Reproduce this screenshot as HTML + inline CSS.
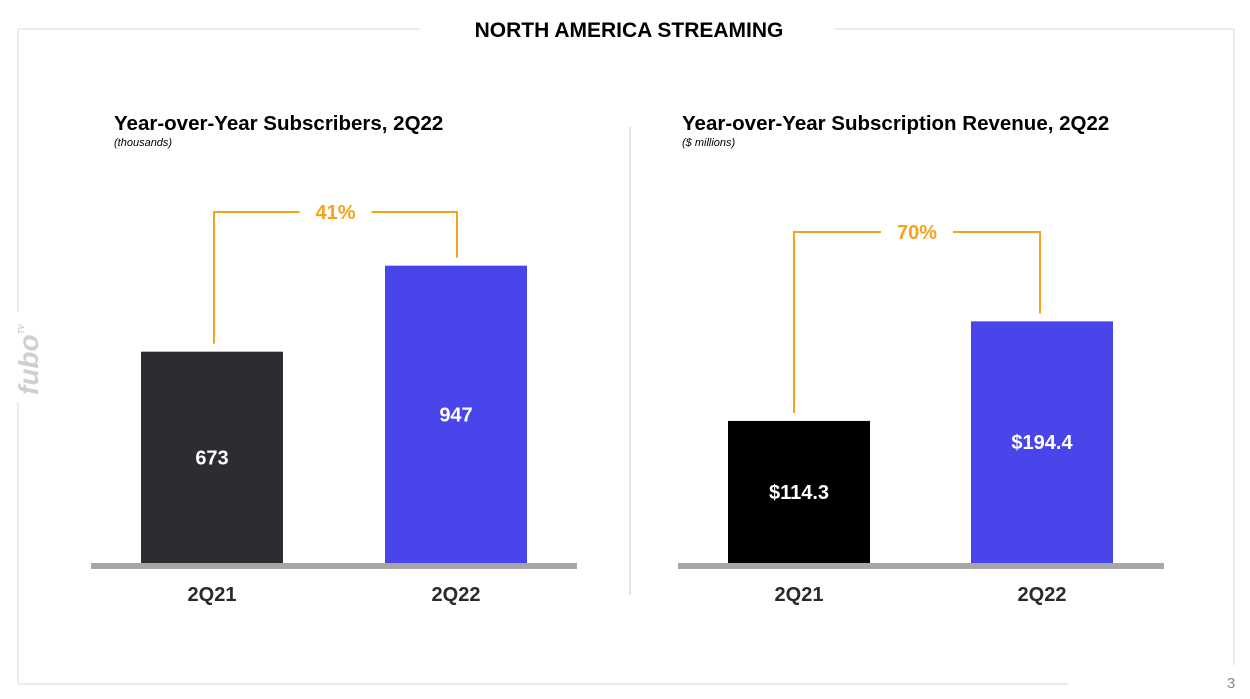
<!DOCTYPE html>
<html><head><meta charset="utf-8"><style>
body{margin:0;background:#fff;width:1250px;height:694px;overflow:hidden;font-family:"Liberation Sans",sans-serif}
svg text{font-family:"Liberation Sans",sans-serif}
</style></head><body>
<svg id="s" width="1250" height="694">
<g stroke="#ececec" stroke-width="2" fill="none">
<line x1="18" y1="29" x2="420" y2="29"/><line x1="835" y1="29" x2="1234" y2="29"/>
<line x1="18" y1="29" x2="18" y2="312"/><line x1="18" y1="402" x2="18" y2="684"/>
<line x1="18" y1="684" x2="1068" y2="684"/><line x1="1234" y1="29" x2="1234" y2="665"/>
</g>
<text x="629" y="37" text-anchor="middle" font-size="21" font-weight="bold" fill="#000">NORTH AMERICA STREAMING</text>
<line x1="630" y1="127" x2="630" y2="595" stroke="#e6e6e6" stroke-width="2"/>
<text transform="translate(38,395) rotate(-90)" font-size="28" font-weight="bold" fill="#cfcfcf" font-style="italic">fubo<tspan font-size="8" dy="-14">TV</tspan></text>
<text x="1231" y="688" text-anchor="middle" font-size="15" fill="#888">3</text>
<g id="c1"></g>
<g id="c2"></g>
</svg>
<script>
const categories=["2Q21","2Q22"];
const subscribers=[673,947];
const subscriberLabels=["673","947"];
const revenue=[114.3,194.4];
const revenueLabels=["$114.3","$194.4"];
const growthLabels=["41%","70%"];
const NS="http://www.w3.org/2000/svg";
function mk(p,t,a){const e=document.createElementNS(NS,t);for(const k in a)e.setAttribute(k,a[k]);p.appendChild(e);return e;}
function chart(g,o){
  const base=563;
  const y=v=>base-v*o.scale;
  const t=mk(g,'text',{x:o.tx,y:130,'font-size':20.5,'font-weight':'bold',fill:'#000'});t.textContent=o.title;
  
  
  const st=mk(g,'text',{x:o.tx,y:146,'font-size':11,'font-style':'italic',fill:'#000'});st.textContent=o.sub;
  
  
  o.vals.forEach((v,i)=>{
    const bx=o.bars[i];
    const r=mk(g,'rect',{x:bx,y:y(v),width:142,height:base-y(v),fill:o.colors[i]});
    
    
    const vt=mk(g,'text',{x:bx+71,y:(y(v)+base)/2+7,'text-anchor':'middle','font-size':20,'font-weight':'bold',fill:'#fff'});vt.textContent=o.labels[i];
    
    
    const ct=mk(g,'text',{x:bx+71,y:601,'text-anchor':'middle','font-size':20,'font-weight':'bold',fill:'#2a2a2a'});ct.textContent=categories[i];
    
    
  });
  const bl=mk(g,'rect',{x:o.bars[0]-50,y:563,width:486,height:6,fill:'#a6a6a6'});
  
  
  const lx=o.bars[0]+o.lo,rx=o.bars[1]+o.ro,ty=o.by,mid=(lx+rx)/2;
  const p=mk(g,'path',{d:`M${lx},${y(o.vals[0])-8}V${ty}H${mid-36}M${mid+36},${ty}H${rx}V${y(o.vals[1])-8}`,stroke:'#f7a21b','stroke-width':2,fill:'none'});
  
  
  const gt=mk(g,'text',{x:mid,y:ty+7,'text-anchor':'middle','font-size':20,'font-weight':'bold',fill:'#f7a21b'});gt.textContent=o.growth;
  
  
}
chart(document.getElementById('c1'),{tx:114,title:"Year-over-Year Subscribers, 2Q22",sub:"(thousands)",vals:subscribers,labels:subscriberLabels,scale:0.314,bars:[141,385],colors:['#2b2d30','#4945ea'],by:212,lo:73,ro:72,growth:growthLabels[0]});
chart(document.getElementById('c2'),{tx:682,title:"Year-over-Year Subscription Revenue, 2Q22",sub:"($ millions)",vals:revenue,labels:revenueLabels,scale:1.243,bars:[728,971],colors:['#000000','#4945ea'],by:232,lo:66,ro:69,growth:growthLabels[1]});
</script>
</body></html>
